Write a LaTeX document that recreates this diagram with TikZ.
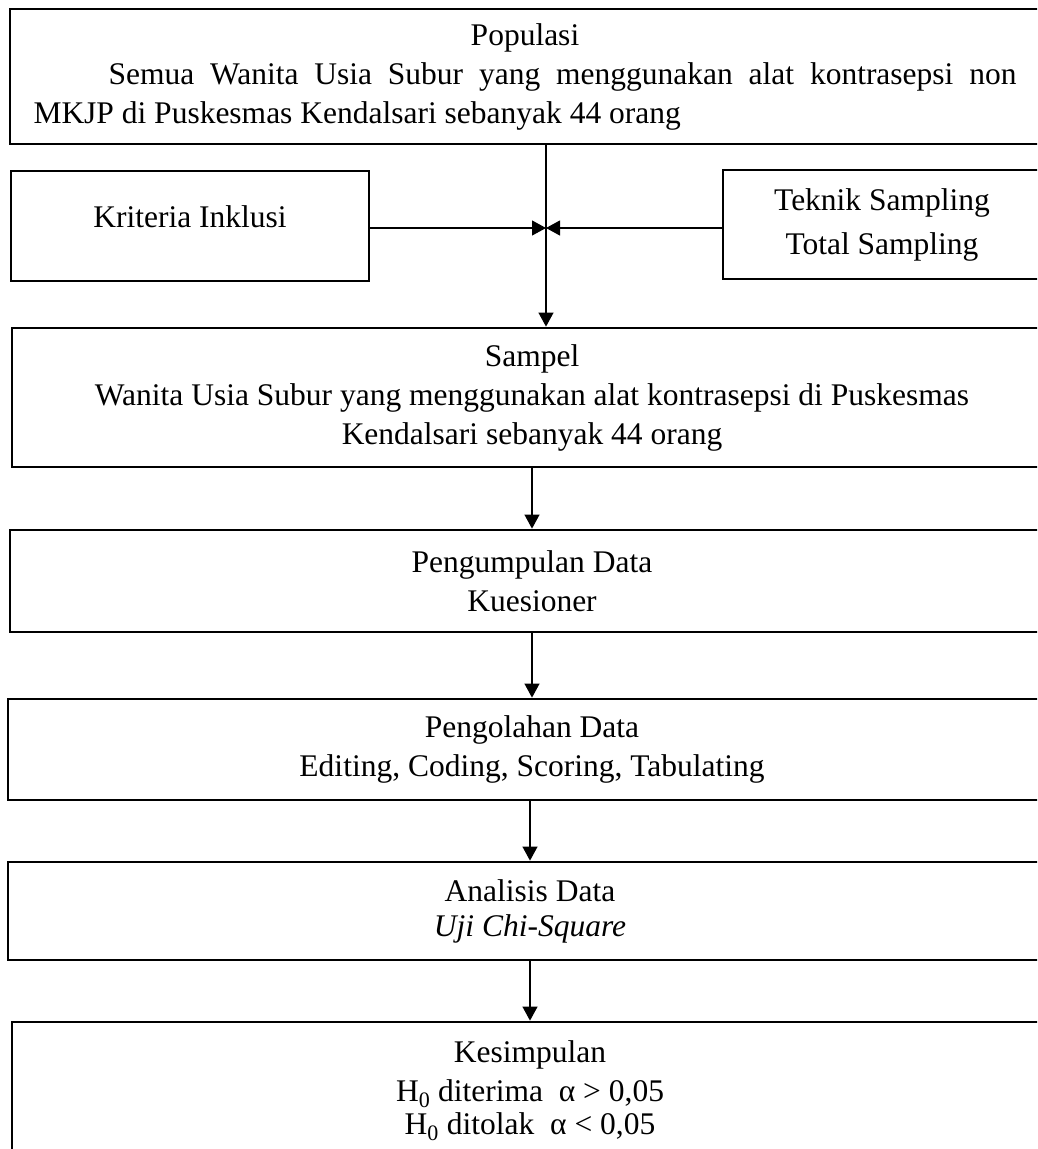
\documentclass[tikz,border=0pt]{standalone}
\usepackage{fontspec}
\setmainfont{Liberation Serif}
\usetikzlibrary{arrows.meta}

\begin{document}
\begin{tikzpicture}[x=1pt,y=1pt,yscale=-1,xscale=1,
  box/.style={draw, line width=2.8pt, rectangle, inner sep=0pt, align=center, font=\fontsize{31.5}{39}\selectfont},
  conn/.style={line width=1.1pt, -{Triangle[length=14pt,width=15pt]}}]
\clip (0,0) rectangle (1037,1149);

%Shape: Rectangle [populasi]
\node[box, minimum width=1030pt, minimum height=135pt, text width=983pt, align=justify] (populasi) at (525,76.5) {{\centering Populasi\par}\hspace*{75pt}Semua Wanita Usia Subur yang menggunakan alat kontrasepsi non\linebreak MKJP di Puskesmas Kendalsari sebanyak 44 orang};
%Shape: Rectangle [kriteria]
\node[box, minimum width=358pt, minimum height=110pt] (kriteria) at (190,226) {\raisebox{9pt}{Kriteria Inklusi}\rule[-9pt]{0pt}{9pt}};
%Shape: Rectangle [teknik]
\node[box, minimum width=318pt, minimum height=109pt] (teknik) at (882,224.5) {Teknik Sampling\\[5pt] Total Sampling};
%Shape: Rectangle [sampel]
\node[box, minimum width=1040pt, minimum height=139pt] (sampel) at (532,397.5) {Sampel\\ Wanita Usia Subur yang menggunakan alat kontrasepsi di Puskesmas\\ Kendalsari sebanyak 44 orang};
%Shape: Rectangle [pengumpulan]
\node[box, minimum width=1044pt, minimum height=102pt] (pengumpulan) at (532,581) {Pengumpulan Data\\ Kuesioner};
%Shape: Rectangle [pengolahan]
\node[box, minimum width=1048pt, minimum height=101pt] (pengolahan) at (532,749.5) {Pengolahan Data\\ Editing, Coding, Scoring, Tabulating};
%Shape: Rectangle [analisis]
\node[box, minimum width=1044pt, minimum height=98pt] (analisis) at (530,911) {Analisis Data\\[-4pt] \textit{Uji Chi-Square}};
%Shape: Rectangle [kesimpulan]
\node[box, minimum width=1036pt, minimum height=138pt] (kesimpulan) at (530,1091) {Kesimpulan\\ H\textsubscript{0} diterima\ \ α > 0,05\\[-6pt] H\textsubscript{0} ditolak\ \ α < 0,05};

\coordinate (junc) at (546,228);

%Straight Lines
\draw[conn] (populasi.south -| junc) -- (sampel.north -| junc);
\draw[conn] (kriteria.east |- junc) -- (junc);
\draw[conn] (teknik.west |- junc) -- (junc);
\draw[conn] (sampel.south -| pengumpulan) -- (pengumpulan.north);
\draw[conn] (pengumpulan.south -| pengolahan) -- (pengolahan.north);
\draw[conn] (pengolahan.south -| analisis) -- (analisis.north);
\draw[conn] (analisis.south -| kesimpulan) -- (kesimpulan.north);
\end{tikzpicture}
\end{document}
